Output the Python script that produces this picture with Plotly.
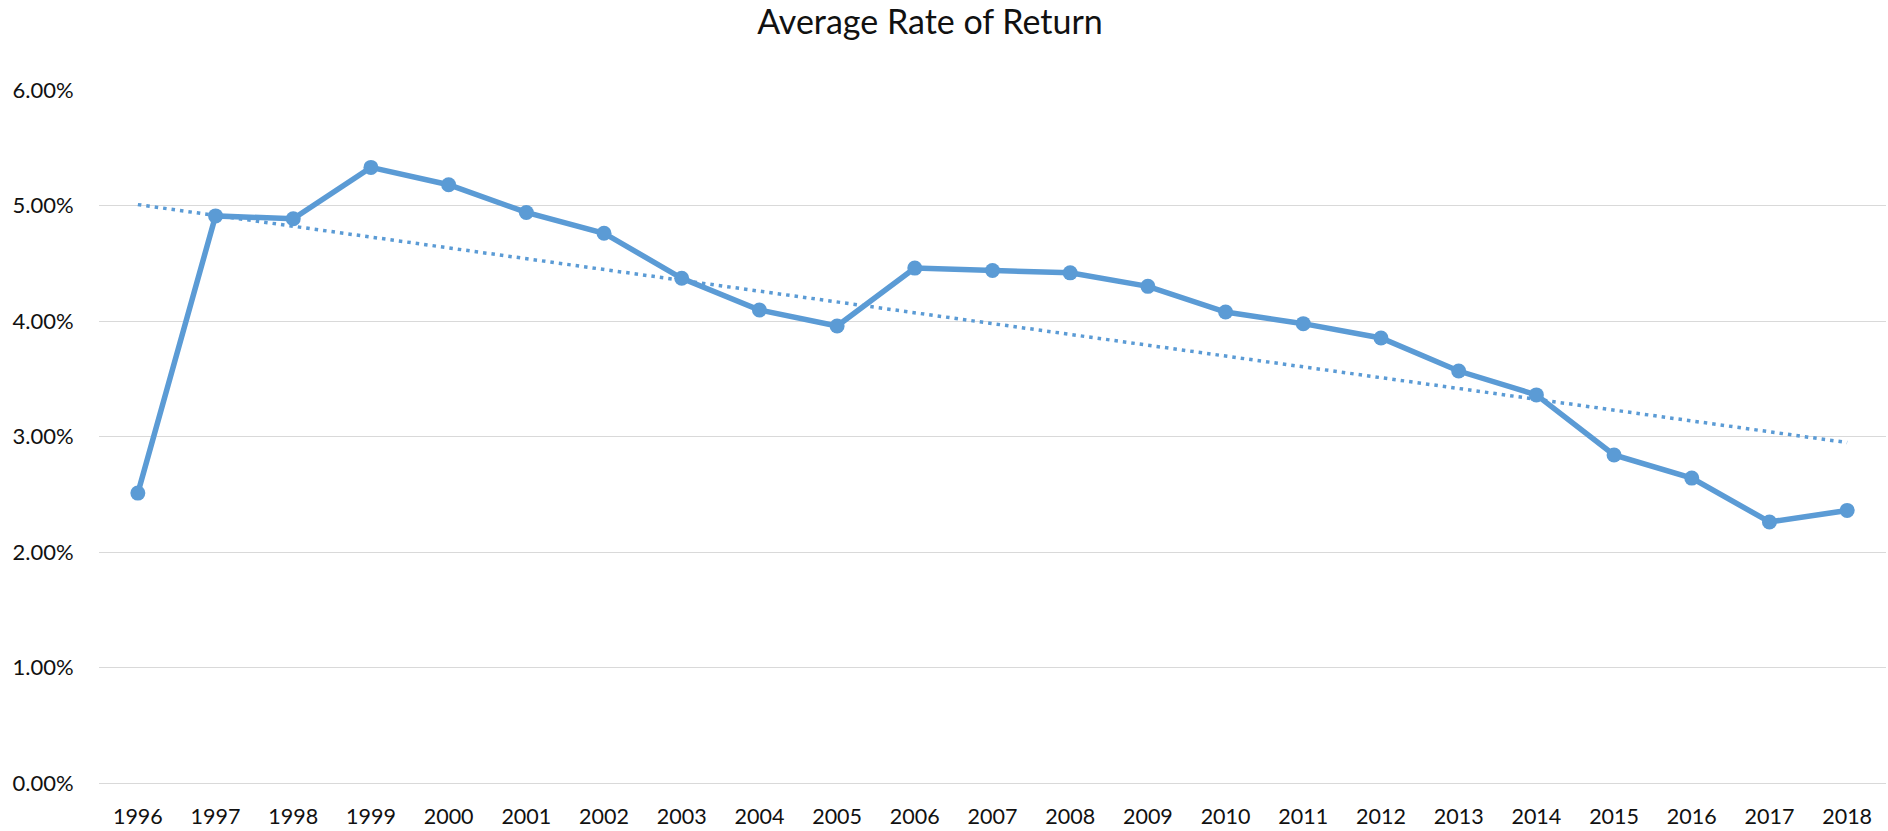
import numpy as np
import plotly.graph_objects as go

years = [str(y) for y in range(1996, 2019)]
avg_return = [2.51, 4.91, 4.885, 5.33, 5.18, 4.94, 4.76, 4.37, 4.095, 3.957, 4.458,
              4.437, 4.417, 4.30, 4.078, 3.977, 3.853, 3.567, 3.36, 2.84, 2.64, 2.26, 2.36]
y_ticks = [0, 1, 2, 3, 4, 5, 6]
y_tick_labels = ["0.00%", "1.00%", "2.00%", "3.00%", "4.00%", "5.00%", "6.00%"]

vals = np.array(avg_return) / 100.0
idx = np.arange(len(years))
slope, intercept = np.polyfit(idx, vals, 1)
trend = slope * idx + intercept

BLUE = "#5B9BD5"
FONT = "Lato"
TXT = "#111111"

W, H = 1888, 831

fig = go.Figure()
fig.add_trace(go.Scatter(
    x=years, y=trend, mode="lines",
    line=dict(color=BLUE, width=3.5, dash="3.5px,5px"),
    hoverinfo="skip", showlegend=False,
))
fig.add_trace(go.Scatter(
    x=years, y=vals, mode="lines+markers",
    line=dict(color=BLUE, width=5.5),
    marker=dict(color=BLUE, size=15),
    showlegend=False,
))

fig.update_layout(
    width=W, height=H,
    margin=dict(l=99, r=2, t=90, b=46),
    paper_bgcolor="white", plot_bgcolor="white",
    font=dict(family=FONT, color=TXT),
    title=dict(text="Average Rate of Return", x=930 / W, xanchor="center",
               y=1 - 22 / H, yanchor="middle", yref="container",
               font=dict(family=FONT, size=34, color=TXT)),
    xaxis=dict(type="category", range=[-0.5, 22.5], showgrid=False, showline=False,
               zeroline=False, ticks="outside", ticklen=14,
               tickcolor="rgba(0,0,0,0)", tickfont=dict(size=21.5, family=FONT, color=TXT)),
    yaxis=dict(range=[0, 0.06], tickvals=[v / 100 for v in y_ticks], ticktext=y_tick_labels,
               showgrid=True, gridcolor="#D9D9D9", gridwidth=1.3,
               zeroline=True, zerolinecolor="#D9D9D9", zerolinewidth=1.3,
               showline=False, ticks="outside", ticklen=20, tickcolor="rgba(0,0,0,0)",
               tickfont=dict(size=22, family=FONT, color=TXT)),
)

# remove the default 8px page margin so the figure fills the window exactly
fig.write_html("out.html", config={"displayModeBar": False},
               post_script="document.body.style.margin='0px';")
